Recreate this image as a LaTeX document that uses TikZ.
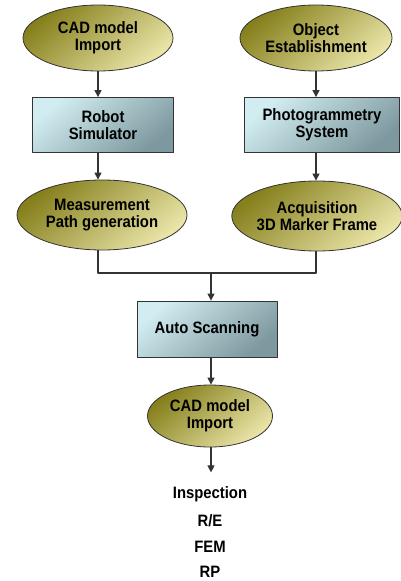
\documentclass[tikz,border=0pt]{standalone}
\usepackage{fontspec}
\setmainfont[FakeStretch=0.9]{Liberation Sans}
\usetikzlibrary{shapes.geometric,arrows.meta}
\definecolor{olivedark}{HTML}{857F1C}
\definecolor{olivelight}{HTML}{EAE5A8}
\definecolor{bluelight}{HTML}{D2EDF1}
\definecolor{bluedark}{HTML}{7D989E}
\begin{document}
\begin{tikzpicture}[x=1pt,y=1pt,>={Triangle[length=7pt,width=7pt]},line join=round,
	font=\bfseries\fontsize{16.5}{17}\selectfont,
	oval/.style={ellipse,draw=black!80,line width=0.8pt,inner sep=0pt,align=center,
		top color=olivedark,bottom color=olivelight,shading angle=40},
	blockbox/.style={rectangle,draw=black!80,line width=0.8pt,inner sep=0pt,align=center,
		minimum height=55pt,top color=bluelight,bottom color=bluedark,shading angle=40},
	link/.style={->,line width=1.1pt,black!80}]
	\useasboundingbox (0,0) rectangle (401,-581);
	% top row
	\node[oval,minimum width=150pt,minimum height=66pt] (cadA) at (98,-38) {CAD model\\Import};
	\node[oval,minimum width=152pt,minimum height=66pt] (obj) at (316,-38) {Object\\Establishment};
	% boxes
	\node[blockbox,minimum width=141pt] (robot) at (103,-125) {Robot\\Simulator};
	\node[blockbox,minimum width=155pt] (photo) at (322,-125) {Photogrammetry\\System};
	% third row
	\node[oval,minimum width=170pt,minimum height=70pt] (meas) at (102,-215) {Measurement\\Path generation};
	\node[oval,minimum width=166pt,minimum height=70pt] (acq) at (317,-216) {Acquisition\\3D Marker Frame};
	% merge
	\node[blockbox,minimum width=140pt,minimum height=56pt] (scan) at (207,-329) {Auto Scanning};
	\node[oval,minimum width=125pt,minimum height=62pt] (cadB) at (210,-416) {CAD model\\Import};
	\coordinate (merge) at (211,-273);
	% results
	\foreach \t/\y/\n in {Inspection/494/insp,{R/E}/521/re,FEM/547/fem,RP/572/rp}{
		\node[inner sep=0pt] (\n) at (210,-\y) {\t};}
	\draw[link] (cadA.south) -- (cadA.south |- robot.north);
	\draw[link] (obj.south) -- (obj.south |- photo.north);
	\draw[link] (robot.south -| cadA.south) -- (meas.north -| cadA.south);
	\draw[link] (photo.south -| obj.south) -- (acq.north -| obj.south);
	\draw[line width=1.1pt,black!80] (meas.south -| cadA.south) |- (merge) -| (acq.south -| obj.south);
	\draw[link] (merge) -- (merge |- scan.north);
	\draw[link] (scan.south -| merge) -- (cadB.north -| merge);
	\draw[link] (cadB.south -| merge) -- ++(0,-25);
\end{tikzpicture}
\end{document}
